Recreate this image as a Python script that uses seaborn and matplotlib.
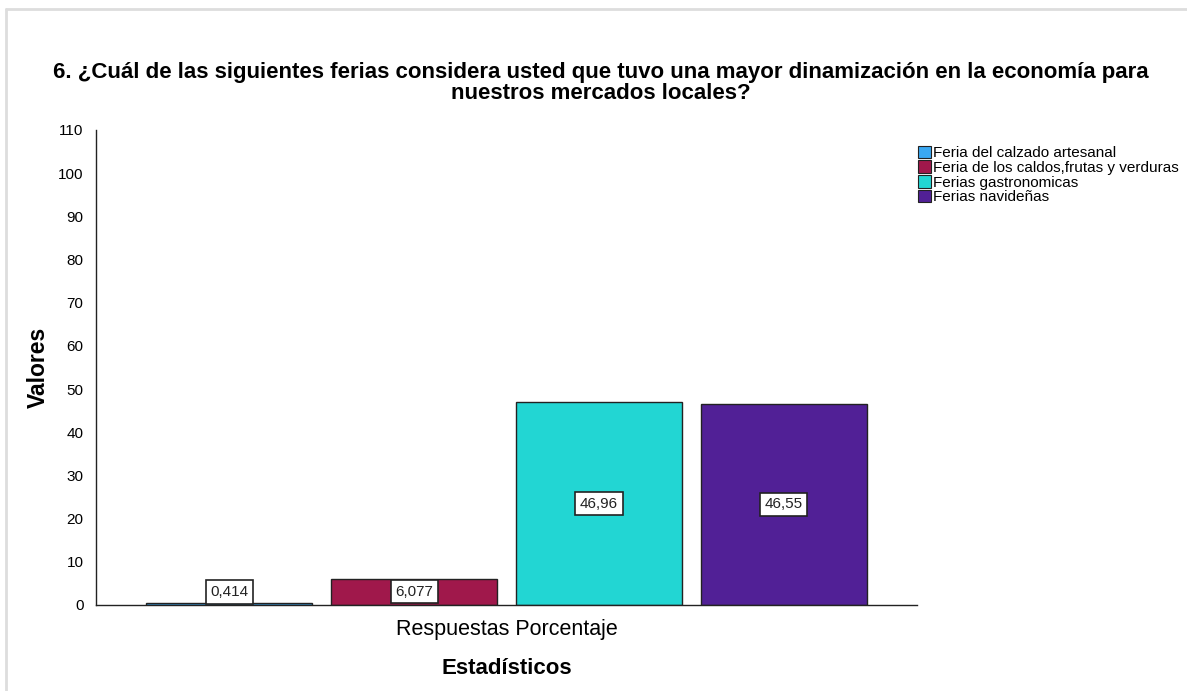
import matplotlib
matplotlib.use("Agg")
import matplotlib.pyplot as plt
import matplotlib.patches as mpatches
from matplotlib.lines import Line2D
import seaborn as sns
import pandas as pd

categories = ["Respuestas Porcentaje"]
ferias = ["Feria del calzado artesanal",
          "Feria de los caldos,frutas y verduras",
          "Ferias gastronomicas",
          "Ferias navideñas"]
valores = [0.414, 6.077, 46.96, 46.55]
etiquetas = ["0,414", "6,077", "46,96", "46,55"]
colores = ["#3AA8F2", "#A0184B", "#22D6D3", "#512096"]

df = pd.DataFrame({"Estadisticos": categories * len(ferias),
                   "Feria": ferias,
                   "Valor": valores})

sns.set_style("white")
plt.rcParams["font.family"] = ["Liberation Sans", "DejaVu Sans"]
plt.rcParams["text.color"] = "black"
plt.rcParams["axes.labelcolor"] = "black"
plt.rcParams["xtick.color"] = "black"
plt.rcParams["ytick.color"] = "black"

fig = plt.figure(figsize=(11.87, 6.91), dpi=100)
ax = fig.add_axes([0.0809, 0.1245, 0.6916, 0.6874])

sns.barplot(data=df, x="Estadisticos", y="Valor", hue="Feria",
            palette=colores, hue_order=ferias, gap=0.1, saturation=1,
            edgecolor="#222222", linewidth=1.0, ax=ax, legend=False)

ax.set_ylim(0, 110)
ax.set_xlim(-0.444, 0.444)
ax.set_yticks(range(0, 111, 10))
ax.tick_params(axis="y", labelsize=11, length=0, pad=9)
ax.tick_params(axis="x", labelsize=15.5, length=0, pad=10)
for s in ["top", "right"]:
    ax.spines[s].set_visible(False)
for s in ["left", "bottom"]:
    ax.spines[s].set_color("#222222")
    ax.spines[s].set_linewidth(1.0)

# etiquetas de valor
for bar, txt in zip(ax.patches, etiquetas):
    cx = bar.get_x() + bar.get_width() / 2
    h = bar.get_height()
    cy = max(h / 2, 3.0)
    ax.text(cx, cy, txt, ha="center", va="center", fontsize=11,
            color="#222222",
            bbox=dict(boxstyle="square,pad=0.3", fc="white",
                      ec="#222222", lw=1.2))

ax.set_xlabel("Estadísticos", fontsize=16, fontweight="bold", labelpad=13)
ax.set_ylabel("Valores", fontsize=16.5, fontweight="bold", labelpad=6)

fig.text(0.506, 0.880,
         "6. ¿Cuál de las siguientes ferias considera usted que tuvo una mayor dinamización en la economía para\nnuestros mercados locales?",
         ha="center", va="center", fontsize=16, fontweight="bold",
         linespacing=0.95)

handles = [mpatches.Patch(facecolor=c, edgecolor="#222222", lw=0.8, label=l)
           for c, l in zip(colores, ferias)]
fig.legend(handles=handles, loc="upper left", bbox_to_anchor=(0.773, 0.789),
           frameon=False, fontsize=11, handlelength=0.9, handleheight=0.9,
           handletextpad=0.1, labelspacing=0.0, borderaxespad=0,
           borderpad=0)

# marco gris parcial
fig.add_artist(Line2D([0.005, 1.0], [0.987, 0.987], color="#dddddd", lw=2))
fig.add_artist(Line2D([0.005, 0.005], [0.0, 0.987], color="#dddddd", lw=2))

fig.savefig("out.png", dpi=100)
